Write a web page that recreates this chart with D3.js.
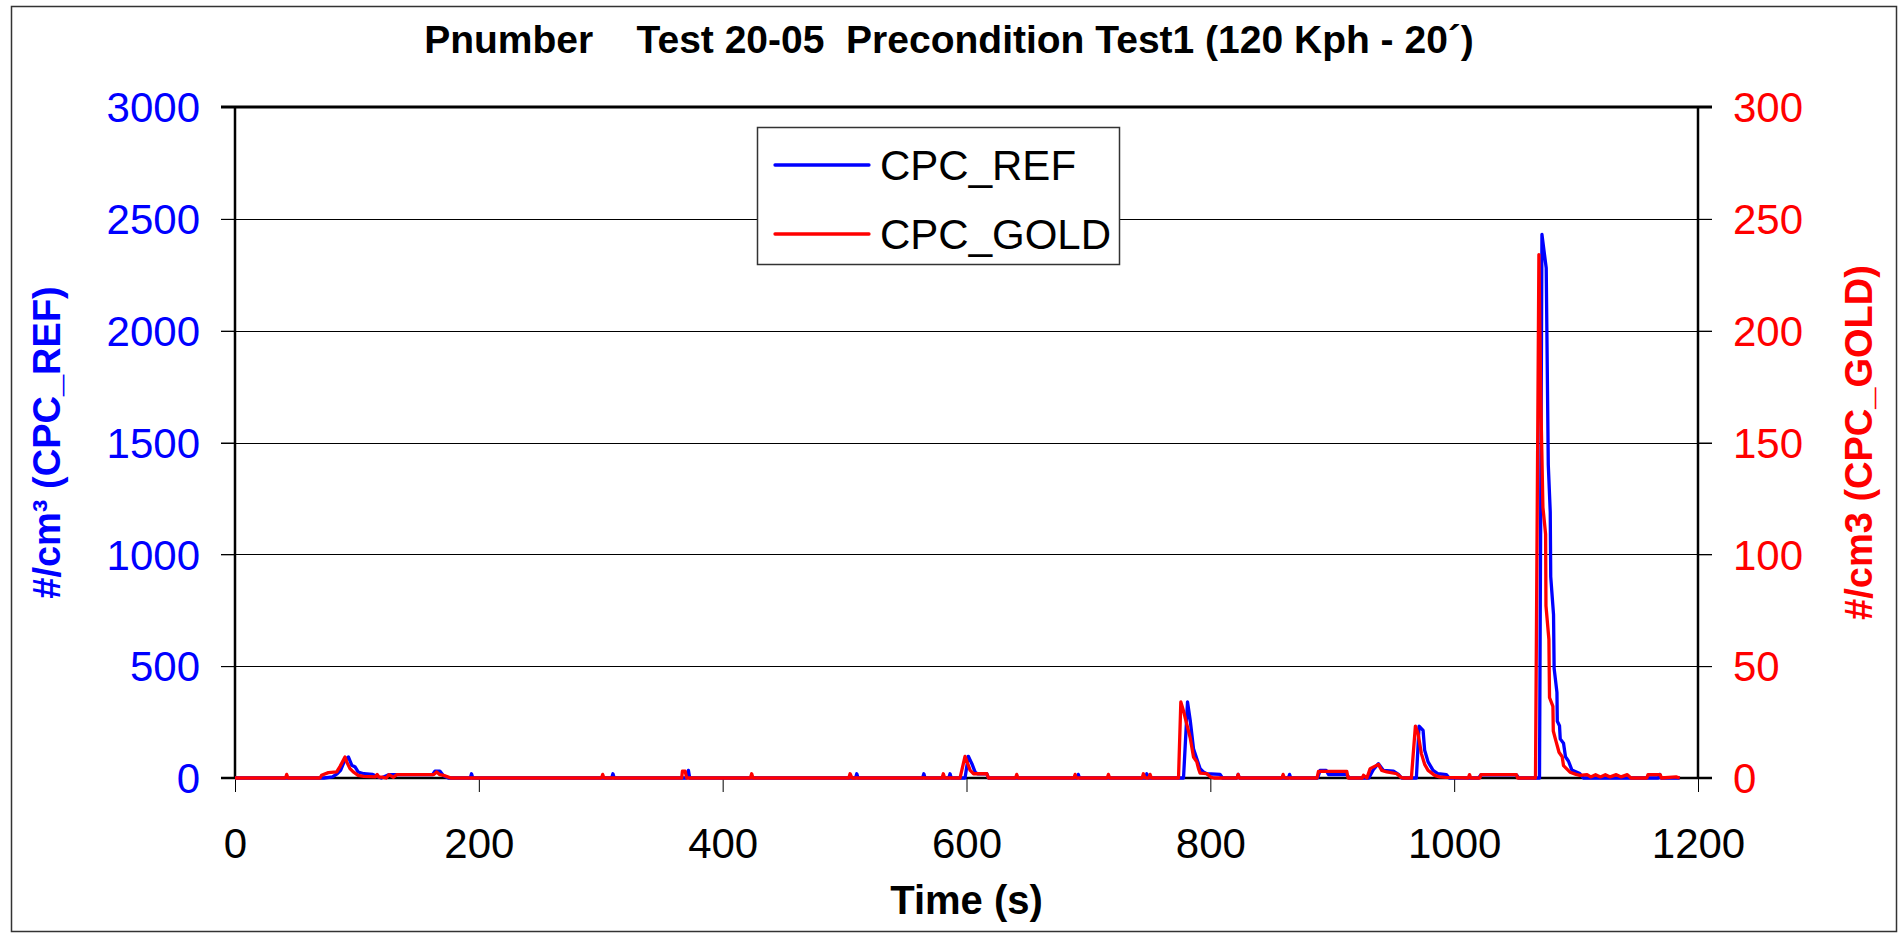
<!DOCTYPE html>
<html>
<head>
<meta charset="utf-8">
<script src="https://cdn.jsdelivr.net/npm/d3@7/dist/d3.min.js"></script>
<style>
  body { margin: 0; background: #fff; }
  text { font-family: "Liberation Sans", Arial, sans-serif; }
</style>
</head>
<body>
<svg id="chart"></svg>
<script>
const W = 1903, H = 937;

// chart texts
const chartTitle = "Pnumber    Test 20-05  Precondition Test1 (120 Kph - 20´)";
const xTitle = "Time (s)";
const refTitle = "#/cm³ (CPC_REF)";
const goldTitle = "#/cm3 (CPC_GOLD)";
const seriesNames = ["CPC_REF", "CPC_GOLD"];

// tick labels
const xTicks = [0, 200, 400, 600, 800, 1000, 1200];
const refTicks = [0, 500, 1000, 1500, 2000, 2500, 3000];
const goldTicks = [0, 50, 100, 150, 200, 250, 300];

// CPC_REF (left axis)
const refTime = [0, 73, 80, 84, 86.6, 90, 93, 95.8, 98.6, 101, 105.7, 113, 116.6, 120, 126, 162, 164, 168, 171, 175,
  193, 194, 195, 309, 310, 311, 370, 371.9, 373, 509, 510, 511, 564, 565, 566, 585.5, 586.5, 587.5,
  598.8, 601.5, 604.4, 607, 609, 616.7, 618, 690.7, 691.7, 692.7, 746.9, 747.9, 748.9,
  778, 781.3, 783.5, 786.2, 788.9, 791.6, 794.3, 797.1, 808, 810, 821.8, 822.8, 823.8, 864, 865, 866,
  888, 890, 895, 897, 912, 914, 930, 934, 937.9, 942, 950.2, 954.3, 957,
  969, 971.2, 974.5, 975.8, 978.6, 982.7, 986.8, 993.6, 996, 1020, 1022, 1051, 1053,
  1070, 1072, 1075.5, 1077.2, 1078.8, 1079.2, 1081.5, 1082, 1084.3, 1084.6, 1086.4, 1087, 1089.7, 1091.3, 1093.8, 1096.5, 1103, 1106,
  1167.6, 1168.6, 1169.6, 1185];
const refValue = [0, 0, 5, 20, 34, 79, 94, 57, 49, 27, 19, 16, 7, 0, 15, 15, 31, 31, 10, 0,
  0, 19, 0, 0, 19, 0, 0, 34, 0, 0, 19, 0, 0, 19, 0, 0, 19, 0,
  0, 97, 64, 27, 19, 19, 0, 0, 16, 0, 0, 19, 0,
  0, 340, 258, 131, 86, 42, 27, 19, 16, 0, 0, 16, 0, 0, 16, 0,
  0, 34, 34, 15, 15, 0, 0, 40, 64, 34, 31, 16, 0,
  0, 232, 213, 124, 72, 34, 19, 15, 0, 0, 14, 14, 0,
  0, 2430, 2280, 1400, 1190, 900, 730, 490, 383, 254, 234, 175, 155, 95, 75, 36, 20, 0,
  0, 16, 0, 0];

// CPC_GOLD (right axis)
const goldTime = [0, 41.4, 42.4, 43.4, 69.7, 71, 76.6, 83.4, 86.2, 90.2, 91.6, 94.3, 97, 101, 105.7, 115, 116.6, 118, 120.8, 124,
  126.3, 130, 132.6, 163, 165.4, 168, 171, 175, 177, 300.6, 301.6, 302.6, 366.4, 367, 369.2, 370.5, 422.8, 423.8, 424.8,
  503.5, 504.5, 506, 580, 581, 582, 594.7, 598.8, 603, 605.8, 616.7, 618, 640.2, 641.2, 642.2,
  688.1, 689.1, 690.1, 715.4, 716.4, 717.4, 744.1, 745.1, 746.5, 749.6, 750.6, 751.6,
  773.9, 775.8, 778, 780.7, 783.5, 786.2, 788.9, 790.3, 791.6, 797, 800, 803, 821.8, 822.8, 823.8, 858.7, 859.7, 860.7,
  887.5, 888.7, 911.9, 913, 924.6, 925.6, 928.4, 931.1, 937.9, 940.6, 944.7, 952.9, 956, 958,
  964.9, 968.2, 970.4, 973.1, 975.8, 978.6, 984, 988, 993, 1011.6, 1012.6, 1013.6, 1021, 1022, 1051, 1052,
  1066.7, 1069.5, 1071.1, 1072.8, 1075, 1075.3, 1077.7, 1078.2, 1081, 1081.3, 1083, 1086, 1088.6, 1089.7, 1095, 1100, 1103,
  1109, 1112, 1116, 1120, 1124, 1128, 1133, 1137, 1142, 1145, 1158, 1159, 1169, 1170, 1182, 1185];
const goldValue = [0, 0, 1.6, 0, 0, 1.2, 2.4, 2.7, 5.2, 9.4, 7.2, 4.2, 2.7, 1.2, 0.7, 0.5, 1.6, 0.4, 0.4, 0,
  1.5, 0.3, 1.5, 1.5, 2.7, 1.5, 1.2, 0.4, 0, 0, 1.6, 0, 0, 3.1, 3.1, 0, 0, 1.9, 0,
  0, 1.9, 0, 0, 1.9, 0, 0, 9.7, 3.4, 1.9, 1.9, 0, 0, 1.6, 0,
  0, 1.6, 0, 0, 1.6, 0, 0, 1.9, 0, 0, 1.6, 0,
  0, 34, 30, 24, 18, 9.4, 7.2, 4.2, 2.2, 2, 0.5, 0, 0, 1.6, 0, 0, 1.6, 0,
  0, 3, 3, 0, 0, 1.2, 0, 4.2, 6.1, 3.4, 2.7, 1.9, 0.5, 0,
  0, 23.2, 19.8, 10.9, 6.1, 3.4, 1.2, 0.5, 0.3, 0, 1.5, 0, 0, 1.5, 1.5, 0,
  0, 234, 168, 121, 109, 77, 62, 36, 32, 21, 17.5, 11.5, 9.5, 5.5, 2.6, 1.6, 1.2,
  1.5, 0.5, 1.5, 0.5, 1.5, 0.5, 1.5, 0.5, 1.5, 0, 0, 1.5, 1.5, 0, 0.5, 0];

const plot = { left: 235, right: 1698, top: 107, bottom: 778 };

const svg = d3.select("#chart").attr("width", W).attr("height", H);

svg.append("rect").attr("width", W).attr("height", H).attr("fill", "#fff");
//outer chart border
svg.append("rect")
    .attr("x", 11.5).attr("y", 6.5)
    .attr("width", 1885).attr("height", 925)
    .attr("fill", "none").attr("stroke", "#333").attr("stroke-width", 1.5);

const x = d3.scaleLinear().domain([0, 1200]).range([plot.left, plot.right]);
const yRef = d3.scaleLinear().domain([0, 3000]).range([plot.bottom, plot.top]);
const yGold = d3.scaleLinear().domain([0, 300]).range([plot.bottom, plot.top]);
const fmt = d3.format("d");

//gridlines
svg.append("g").selectAll("line")
    .data(refTicks.slice(1, -1))
    .join("line")
    .attr("x1", plot.left - 14).attr("x2", plot.right + 14)
    .attr("y1", d => Math.round(yRef(d)) + 0.5).attr("y2", d => Math.round(yRef(d)) + 0.5)
    .attr("stroke", "#000").attr("stroke-width", 1);

//left axis
const leftAxis = svg.append("g")
    .attr("transform", `translate(${plot.left},0)`)
    .call(d3.axisLeft(yRef).tickValues(refTicks).tickFormat(fmt).tickSize(14).tickPadding(21));
leftAxis.select(".domain").remove();
leftAxis.selectAll("text")
    .attr("fill", "#0000ff").attr("font-size", 42).attr("dy", "0.35em")
    .style("font-family", "'Liberation Sans', Arial, sans-serif");
leftAxis.selectAll("line").attr("stroke", "#000");

//right axis
const rightAxis = svg.append("g")
    .attr("transform", `translate(${plot.right},0)`)
    .call(d3.axisRight(yGold).tickValues(goldTicks).tickFormat(fmt).tickSize(14).tickPadding(21));
rightAxis.select(".domain").remove();
rightAxis.selectAll("text")
    .attr("fill", "#ff0000").attr("font-size", 42).attr("dy", "0.35em")
    .style("font-family", "'Liberation Sans', Arial, sans-serif");
rightAxis.selectAll("line").attr("stroke", "#000");

//bottom axis
const bottomAxis = svg.append("g")
    .attr("transform", `translate(0,${plot.bottom})`)
    .call(d3.axisBottom(x).tickValues(xTicks).tickFormat(fmt).tickSize(14).tickPadding(36));
bottomAxis.select(".domain").remove();
bottomAxis.selectAll("text")
    .attr("fill", "#000").attr("font-size", 42)
    .style("font-family", "'Liberation Sans', Arial, sans-serif");
bottomAxis.selectAll("line").attr("stroke", "#000");

//plot frame
svg.append("line").attr("x1", plot.left - 14).attr("x2", plot.right + 14)
    .attr("y1", plot.top).attr("y2", plot.top).attr("stroke", "#000").attr("stroke-width", 3);
svg.append("line").attr("x1", plot.left).attr("x2", plot.left)
    .attr("y1", plot.top).attr("y2", plot.bottom).attr("stroke", "#000").attr("stroke-width", 2.5);
svg.append("line").attr("x1", plot.right).attr("x2", plot.right)
    .attr("y1", plot.top).attr("y2", plot.bottom).attr("stroke", "#000").attr("stroke-width", 2.5);
svg.append("line").attr("x1", plot.left - 14).attr("x2", plot.right + 14)
    .attr("y1", plot.bottom).attr("y2", plot.bottom).attr("stroke", "#000").attr("stroke-width", 2.5);

//series lines
const refLine = d3.line().x(d => x(d[0])).y(d => yRef(d[1]));
const goldLine = d3.line().x(d => x(d[0])).y(d => yGold(d[1]));

svg.append("path")
    .datum(d3.zip(refTime, refValue))
    .attr("d", refLine)
    .attr("fill", "none").attr("stroke", "#0000ff").attr("stroke-width", 3.3)
    .attr("stroke-linejoin", "round");
svg.append("path")
    .datum(d3.zip(goldTime, goldValue))
    .attr("d", goldLine)
    .attr("fill", "none").attr("stroke", "#ff0000").attr("stroke-width", 3.3)
    .attr("stroke-linejoin", "round");

//title
svg.append("text")
    .attr("x", 949).attr("y", 53)
    .attr("text-anchor", "middle")
    .attr("font-size", 39).attr("font-weight", "bold")
    .style("white-space", "pre")
    .text(chartTitle);

//axis titles
svg.append("text")
    .attr("x", (plot.left + plot.right) / 2).attr("y", 914)
    .attr("text-anchor", "middle")
    .attr("font-size", 40).attr("font-weight", "bold")
    .text(xTitle);

svg.append("text")
    .attr("transform", `translate(60,${(plot.top + plot.bottom) / 2}) rotate(-90)`)
    .attr("text-anchor", "middle")
    .attr("font-size", 38).attr("font-weight", "bold").attr("fill", "#0000ff")
    .text(refTitle);

svg.append("text")
    .attr("transform", `translate(1872,${(plot.top + plot.bottom) / 2}) rotate(-90)`)
    .attr("text-anchor", "middle")
    .attr("font-size", 38).attr("font-weight", "bold").attr("fill", "#ff0000")
    .text(goldTitle);

//legend
const legend = svg.append("g").attr("transform", "translate(757,127)");
legend.append("rect")
    .attr("x", 0.5).attr("y", 0.5).attr("width", 362).attr("height", 137)
    .attr("fill", "#fff").attr("stroke", "#333").attr("stroke-width", 1.5);
const legendColors = ["#0000ff", "#ff0000"];
seriesNames.forEach((name, i) => {
    const cy = 38 + i * 69;
    legend.append("line")
        .attr("x1", 18).attr("x2", 112).attr("y1", cy).attr("y2", cy)
        .attr("stroke", legendColors[i]).attr("stroke-width", 3.3).attr("stroke-linecap", "round");
    legend.append("text")
        .attr("x", 123).attr("y", cy + 15)
        .attr("font-size", 42)
        .text(name);
});
</script>
</body>
</html>
